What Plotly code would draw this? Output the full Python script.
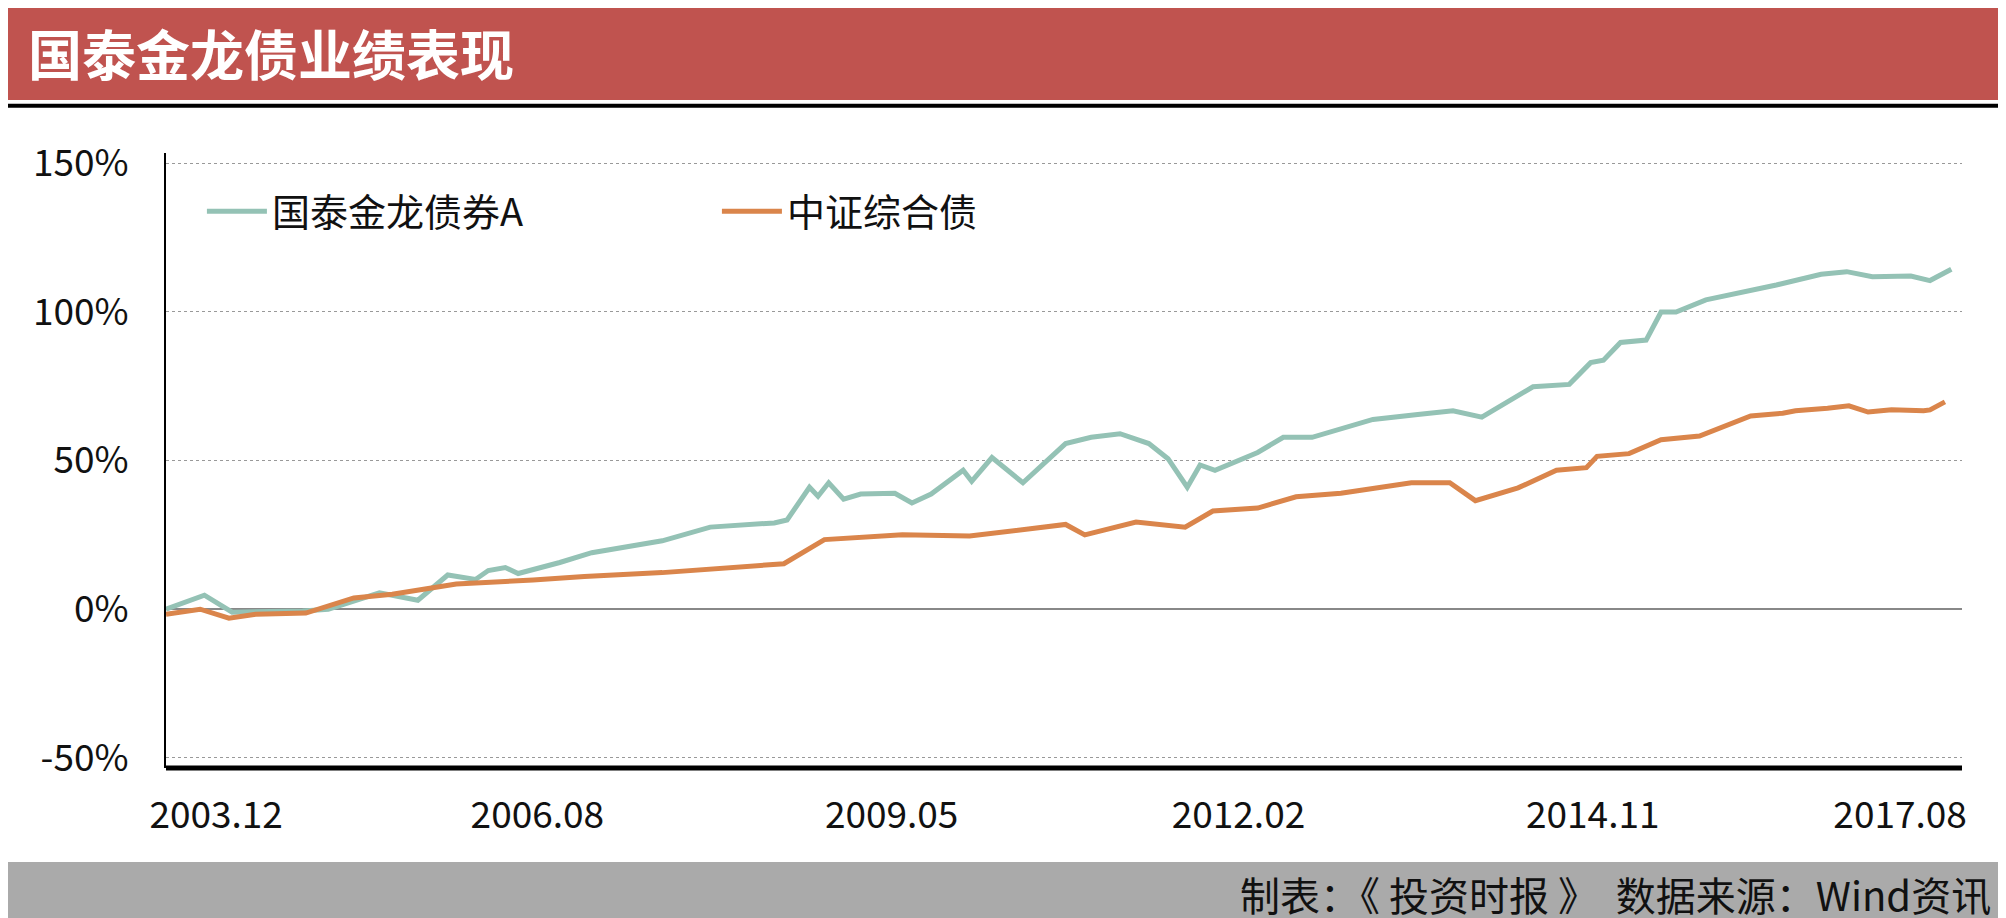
import plotly.graph_objects as go

# month index (0 = start of chart) and cumulative return, %
fund_x = [0, 3.6, 6.2, 12.8, 15.2, 20, 23.6, 26.4, 29, 30.2, 31.8, 33, 36.9, 39.9, 46.5, 51,
          57, 58.2, 60.3, 61.1, 62.1, 63.5, 65.1, 68.3, 69.9, 71.7, 74.7, 75.5, 77.4, 78.9,
          80.3, 84.3, 86.7, 89.4, 92.1, 93.9, 95.7, 96.9, 98.3, 102.3, 104.7, 107.4, 113.1,
          117.3, 120.6, 123.3, 125.1, 128.1, 131.5, 133.5, 134.7, 136.3, 138.7, 140.1, 141.5,
          144.3, 150.9, 155.1, 157.5, 159.9, 163.5, 165.3, 167.3]
fund_y = [0, 4.7, -1, -0.6, 0, 5.5, 3, 11.5, 10, 13, 14, 12, 15.7, 19, 23, 27.6,
          29, 30, 41, 38, 42.5, 37, 38.7, 39, 35.7, 38.7, 46.7, 43, 51, 46.7,
          42.5, 55.7, 57.8, 59, 55.7, 50.6, 41, 48.5, 46.7, 52.7, 57.8, 57.8, 63.8,
          65.5, 66.7, 64.6, 68.4, 74.8, 75.6, 82.9, 83.7, 89.7, 90.5, 99.9, 99.9,
          104, 109, 112.6, 113.5, 111.8, 112, 110.5, 114.3]

index_x = [0, 3.2, 5.9, 8.4, 13.1, 17.6, 21.2, 27.2, 34.4, 39.2, 46.5, 54.9, 57.9, 61.7,
           65.1, 69, 75.3, 81.3, 84.3, 86.1, 90.9, 95.5, 98.1, 102.3, 105.9, 110.1, 116.7,
           120.3, 122.7, 126.7, 130.3, 133.1, 134.1, 137.1, 140.1, 143.7, 148.5, 151.5,
           152.7, 155.7, 157.7, 159.5, 161.7, 164.7, 165.3, 166.7]
index_y = [-1.7, 0, -3, -1.7, -1.3, 3.8, 5, 8.5, 9.8, 11, 12.3, 14.4, 15.3, 23.4,
           24.2, 25, 24.6, 27.2, 28.5, 25, 29.3, 27.6, 33, 34, 37.8, 39, 42.5,
           42.5, 36.5, 40.8, 46.7, 47.6, 51.4, 52.3, 57, 58.2, 65, 65.9,
           66.7, 67.6, 68.4, 66.3, 67.1, 66.7, 67, 69.7]

tick_pos = [4.7, 34.8, 68, 100.5, 133.7, 162.5]
tick_text = ['2003.12', '2006.08', '2009.05', '2012.02', '2014.11', '2017.08']

FONT = 'Noto Sans CJK SC'
GREEN = '#94C2B5'
ORANGE = '#DA854B'

fig = go.Figure()
fig.add_trace(go.Scatter(x=fund_x, y=fund_y, mode='lines', name='国泰金龙债券A',
                         line=dict(color=GREEN, width=5)))
fig.add_trace(go.Scatter(x=index_x, y=index_y, mode='lines', name='中证综合债',
                         line=dict(color=ORANGE, width=5)))

fig.update_layout(
    width=2006, height=918,
    margin=dict(l=158, r=52, t=145, b=158),
    paper_bgcolor='white', plot_bgcolor='white',
    font=dict(family=FONT, color='#111111'),
    legend=dict(orientation='h', x=0.02, y=0.905, yanchor='middle', xanchor='left',
                font=dict(size=38), bgcolor='rgba(0,0,0,0)', itemwidth=60,
                entrywidth=440, entrywidthmode='pixels'),
    xaxis=dict(range=[0, 168.3], tickvals=tick_pos, ticktext=tick_text, showgrid=False,
               tickfont=dict(size=37), ticks='', showline=False, zeroline=False,
               ticklabelstandoff=22),
    yaxis=dict(range=[-53.4, 153.4], tickvals=[-50, 0, 50, 100, 150],
               ticktext=['-50%', '0%', '50%', '100%', '150%'], tickfont=dict(size=37),
               showgrid=True, gridcolor='#999999', griddash='dot', gridwidth=1,
               zeroline=True, zerolinecolor='#888888', zerolinewidth=2,
               showline=True, linecolor='black', linewidth=2, ticks='',
               ticklabelstandoff=28),
    shapes=[
        dict(type='rect', xref='paper', yref='paper', x0=-0.1, x1=1.04, y0=1.086, y1=1.25,
             fillcolor='#C0534F', line=dict(width=0), layer='below'),
        dict(type='line', xref='paper', yref='paper', x0=-0.1, x1=1.04, y0=1.077, y1=1.077,
             line=dict(color='black', width=4)),
        dict(type='rect', xref='paper', yref='paper', x0=-0.1, x1=1.04, y0=-0.27, y1=-0.153,
             fillcolor='#AAAAAA', line=dict(width=0), layer='below'),
        dict(type='line', xref='paper', yref='paper', x0=0, x1=1, y0=0, y1=0,
             line=dict(color='black', width=5)),
    ],
    annotations=[
        dict(text='<b>国泰金龙债业绩表现</b>', xref='paper', yref='paper', x=-0.078, y=1.163,
             xanchor='left', yanchor='middle', showarrow=False,
             font=dict(size=54, color='white', family=FONT)),
        dict(text='制表：《 投资时报 》  数据来源：Wind资讯', xref='paper', yref='paper',
             x=1.017, y=-0.205, xanchor='right', yanchor='middle', showarrow=False,
             font=dict(size=40, color='#111111', family=FONT)),
    ],
)

fig.write_html('out.html')
